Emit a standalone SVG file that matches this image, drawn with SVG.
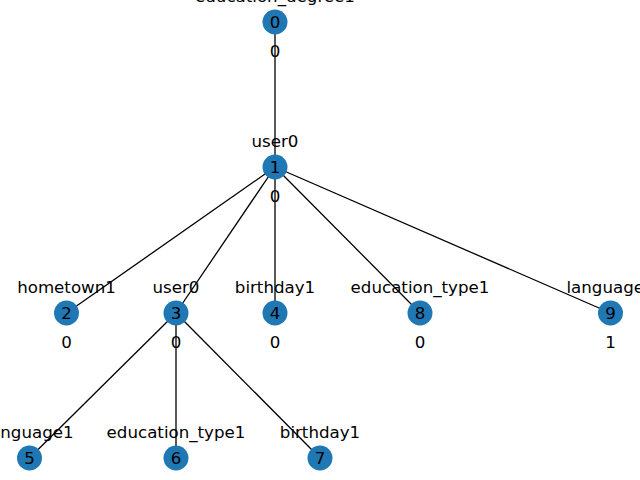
<svg xmlns="http://www.w3.org/2000/svg" width="640" height="480" viewBox="0 0 640 480">
  <style>
    .edge { stroke: #000000; stroke-width: 1.3; fill: none; }
    .node circle { fill: #1f77b4; }
    text { font-family: "DejaVu Sans", "Liberation Sans", sans-serif; font-size: 16.67px; fill: #000000; text-anchor: middle; }
  </style>
  <rect width="640" height="480" fill="#ffffff"/>
  <g id="connectors">
    <line class="edge" x1="275" y1="22" x2="275" y2="167"/>
    <line class="edge" x1="275" y1="167" x2="66.5" y2="313"/>
    <line class="edge" x1="275" y1="167" x2="176" y2="313"/>
    <line class="edge" x1="275" y1="167" x2="275" y2="313"/>
    <line class="edge" x1="275" y1="167" x2="420" y2="313"/>
    <line class="edge" x1="275" y1="167" x2="610.5" y2="313"/>
    <line class="edge" x1="176" y1="313" x2="29.5" y2="458"/>
    <line class="edge" x1="176" y1="313" x2="176" y2="458"/>
    <line class="edge" x1="176" y1="313" x2="320" y2="458"/>
  </g>
  <g id="node0" class="node">
    <circle cx="275" cy="22" r="12.5"/>
    <text x="275" y="28">0</text>
    <text x="275" y="2">education_degree1</text>
    <text x="275" y="57">0</text>
  </g>
  <g id="node1" class="node">
    <circle cx="275" cy="167" r="12.5"/>
    <text x="275" y="173">1</text>
    <text x="275" y="147">user0</text>
    <text x="275" y="202">0</text>
  </g>
  <g id="node2" class="node">
    <circle cx="66.5" cy="313" r="12.5"/>
    <text x="66.5" y="319">2</text>
    <text x="66.5" y="293">hometown1</text>
    <text x="66.5" y="348">0</text>
  </g>
  <g id="node3" class="node">
    <circle cx="176" cy="313" r="12.5"/>
    <text x="176" y="319">3</text>
    <text x="176" y="293">user0</text>
    <text x="176" y="348">0</text>
  </g>
  <g id="node4" class="node">
    <circle cx="275" cy="313" r="12.5"/>
    <text x="275" y="319">4</text>
    <text x="275" y="293">birthday1</text>
    <text x="275" y="348">0</text>
  </g>
  <g id="node8" class="node">
    <circle cx="420" cy="313" r="12.5"/>
    <text x="420" y="319">8</text>
    <text x="420" y="293">education_type1</text>
    <text x="420" y="348">0</text>
  </g>
  <g id="node9" class="node">
    <circle cx="610.5" cy="313" r="12.5"/>
    <text x="610.5" y="319">9</text>
    <text x="610.5" y="293">language1</text>
    <text x="610.5" y="348">1</text>
  </g>
  <g id="node5" class="node">
    <circle cx="29.5" cy="458" r="12.5"/>
    <text x="29.5" y="464">5</text>
    <text x="29.5" y="438">language1</text>
  </g>
  <g id="node6" class="node">
    <circle cx="176" cy="458" r="12.5"/>
    <text x="176" y="464">6</text>
    <text x="176" y="438">education_type1</text>
  </g>
  <g id="node7" class="node">
    <circle cx="320" cy="458" r="12.5"/>
    <text x="320" y="464">7</text>
    <text x="320" y="438">birthday1</text>
  </g>
</svg>
